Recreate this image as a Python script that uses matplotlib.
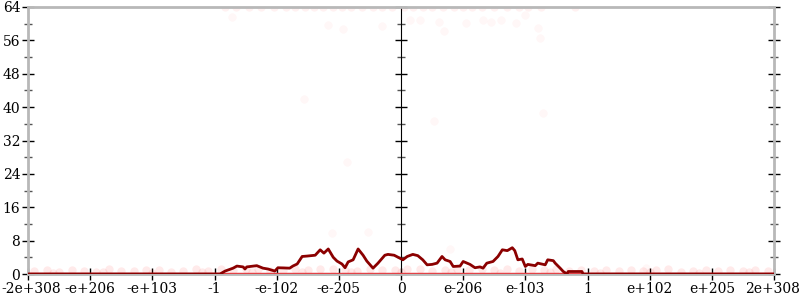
import numpy as np
import matplotlib
matplotlib.use("Agg")
import matplotlib.pyplot as plt
import matplotlib.transforms as mtransforms

# x positions are in "flonum ordinal" units: one unit per labelled tick
tick_pos = [-6, -5, -4, -3, -2, -1, 0, 1, 2, 3, 4, 5, 6]
tick_labels = ["-2e+308", "-e+206", "-e+103", "-1", "-e-102", "-e-205", "0",
               "e-206", "e-103", "1", "e+102", "e+205", "2e+308"]

# smoothed count (dark red line)
line_x = [-6.0, -3.01, -2.91, -2.83, -2.70, -2.64, -2.54, -2.51, -2.48, -2.32,
          -2.22, -2.14, -2.03, -1.98, -1.79, -1.74, -1.67, -1.59, -1.51, -1.38,
          -1.30, -1.24, -1.17, -1.09, -1.03, -0.95, -0.90, -0.85, -0.77, -0.69,
          -0.61, -0.55, -0.45, -0.37, -0.26, -0.21, -0.11, -0.02, 0.03, 0.10,
          0.19, 0.27, 0.35, 0.42, 0.50, 0.58, 0.66, 0.71, 0.79, 0.84,
          0.95, 1.00, 1.11, 1.19, 1.27, 1.32, 1.38, 1.48, 1.56, 1.63,
          1.71, 1.79, 1.83, 1.88, 1.95, 2.00, 2.04, 2.16, 2.20, 2.32,
          2.36, 2.45, 2.48, 2.56, 2.61, 2.67, 2.69, 2.91, 2.93, 6.0]
line_y = [0, 0, 0, 0.7, 1.4, 1.9, 1.7, 1.2, 1.7, 2.0,
          1.4, 1.2, 0.7, 1.5, 1.4, 1.9, 2.4, 4.2, 4.3, 4.5,
          5.8, 5.0, 6.0, 4.0, 3.1, 2.4, 1.5, 2.9, 3.4, 6.0,
          4.5, 3.1, 1.4, 2.6, 4.5, 4.7, 4.5, 3.8, 3.4, 4.2,
          4.7, 4.4, 3.4, 2.2, 2.3, 2.6, 4.2, 3.4, 3.0, 1.8,
          1.9, 3.0, 2.3, 1.5, 1.7, 1.4, 2.6, 3.0, 4.2, 5.8,
          5.6, 6.3, 5.6, 3.4, 3.6, 1.8, 2.3, 2.0, 2.6, 2.2,
          3.4, 3.2, 2.6, 1.4, 0.6, 0, 0.6, 0.6, 0, 0]

# individual samples (faint points)
zero_span = [-6, 6]
low_x = [-5.9, -5.7, -5.5, -5.3, -5.1, -4.9, -4.7, -4.5, -4.3, -4.1, -3.9, -3.7,
         -3.5, -3.3, -3.1, -2.9, -2.7, -2.5, -2.3, -2.1, -1.9, -1.7, -1.5, -1.3,
         -1.1, -0.9, -0.7, -0.5, -0.3, -0.1, 0.1, 0.3, 0.5, 0.7, 0.9, 1.1,
         1.3, 1.5, 1.7, 1.9, 2.1, 2.3, 2.5, 2.7, 2.9, 3.1, 3.3, 3.5,
         3.7, 3.9, 4.1, 4.3, 4.5, 4.7, 4.9, 5.1, 5.3, 5.5, 5.7, 5.9,
         -5.6, -4.8, -4.0, -3.2, -2.4, -1.6, -0.8, 0.0, 0.8, 1.6, 2.4, 3.2,
         4.0, 4.8, 5.6]
low_y = [0.6, 0.9, 0.4, 1.0, 0.7, 0.5, 1.1, 0.8, 0.6, 0.9, 1.0, 0.5,
         0.8, 1.1, 0.7, 1.2, 0.9, 1.1, 1.3, 0.8, 1.0, 1.2, 0.9, 1.1,
         1.3, 1.0, 0.8, 1.2, 1.0, 0.9, 1.1, 1.3, 0.8, 1.0, 1.2, 0.9,
         1.1, 1.0, 1.3, 0.8, 1.1, 0.9, 1.2, 0.7, 1.0, 0.6, 0.9, 0.8,
         1.0, 0.6, 0.9, 1.1, 0.5, 0.8, 1.0, 0.7, 0.9, 0.6, 1.0, 0.8,
         0.3, 0.4, 0.3, 0.4, 0.5, 0.4, 0.5, 0.4, 0.5, 0.3, 0.4, 0.3,
         0.4, 0.3, 0.4]
top_x = [-2.83, -2.65, -2.45, -2.25, -2.05, -1.85, -1.70, -1.55, -1.40, -1.25,
         -1.10, -0.95, -0.80, -0.62, -0.45, -0.30, -0.15, 0.05, 0.20, 0.35,
         0.50, 0.68, 0.85, 1.00, 1.15, 1.30, 1.50, 1.70, 1.90, 2.05, 2.25, 2.80]
top_y = [64] * len(top_x)
mid_x = [-2.72, -1.17, -0.93, -0.31, 0.15, 0.31, 0.61, 0.69, 1.05, 1.32,
         1.45, 1.61, 1.85, 2.00, 2.23, -1.56, 0.53, 2.29, 2.21, -0.87,
         -1.11, -0.53, 0.79, 3.94]
mid_y = [61.6, 59.7, 58.7, 59.5, 60.9, 60.9, 60.4, 58.3, 60.2, 60.9,
         60.4, 60.9, 60.2, 62.1, 56.6, 42.0, 36.7, 38.6, 59.0, 26.9,
         9.8, 10.1, 6.0, 1.4]

plt.rcParams['font.family'] = ['DejaVu Serif']
fig = plt.figure(figsize=(8, 3), dpi=100)
ax = fig.add_axes([28 / 800, 26 / 300, 746 / 800, 267 / 300])

pt = dict(marker='o', linestyle='none', markersize=6, markeredgewidth=0,
          color='#ff2020')
ax.plot(low_x, low_y, alpha=0.09, **pt)
ax.plot(top_x, top_y, alpha=0.06, **pt)
ax.plot(mid_x, mid_y, alpha=0.035, **pt)
ax.plot(zero_span, [0, 0], color='#e8353a', lw=2.5, alpha=0.9, zorder=3,
        solid_capstyle='butt')
ax.plot(line_x, line_y, color='#8b0000', lw=2, zorder=4)

ax.set_xlim(-6, 6)
ax.set_ylim(0, 64)

gray = '#b8b8b8'
for s in ax.spines.values():
    s.set_color(gray)
    s.set_linewidth(2)

ax.set_xticks(tick_pos)
ax.set_xticklabels(tick_labels)
ax.set_yticks(range(0, 65, 8))
ax.set_yticks(range(4, 64, 8), minor=True)
ax.tick_params(axis='both', which='major', direction='inout', length=9,
               width=1, color='black', labelsize=10, pad=1)
ax.tick_params(axis='y', which='minor', direction='inout', length=6,
               width=1, color='#555555')
ax.tick_params(axis='y', which='both', right=True)
ax.tick_params(axis='x', which='minor', bottom=False)

# keep the first and last x labels inside the picture
xl = ax.get_xticklabels()
xl[0].set_transform(xl[0].get_transform() +
                    mtransforms.ScaledTranslation(3 / 100, 0, fig.dpi_scale_trans))
xl[-1].set_transform(xl[-1].get_transform() +
                     mtransforms.ScaledTranslation(-1 / 100, 0, fig.dpi_scale_trans))

# centre axis at x = 0
cax = ax.secondary_yaxis(0.5)
cax.spines['left'].set_color(gray)
cax.spines['left'].set_linewidth(2)
cax.set_yticks(range(0, 65, 8))
cax.set_yticks(range(4, 64, 8), minor=True)
cax.set_yticklabels([])
cax.tick_params(which='major', direction='inout', length=9, width=1,
                color='black')
cax.tick_params(which='minor', direction='inout', length=6, width=1,
                color='#555555')

fig.savefig('out.png', dpi=100)
